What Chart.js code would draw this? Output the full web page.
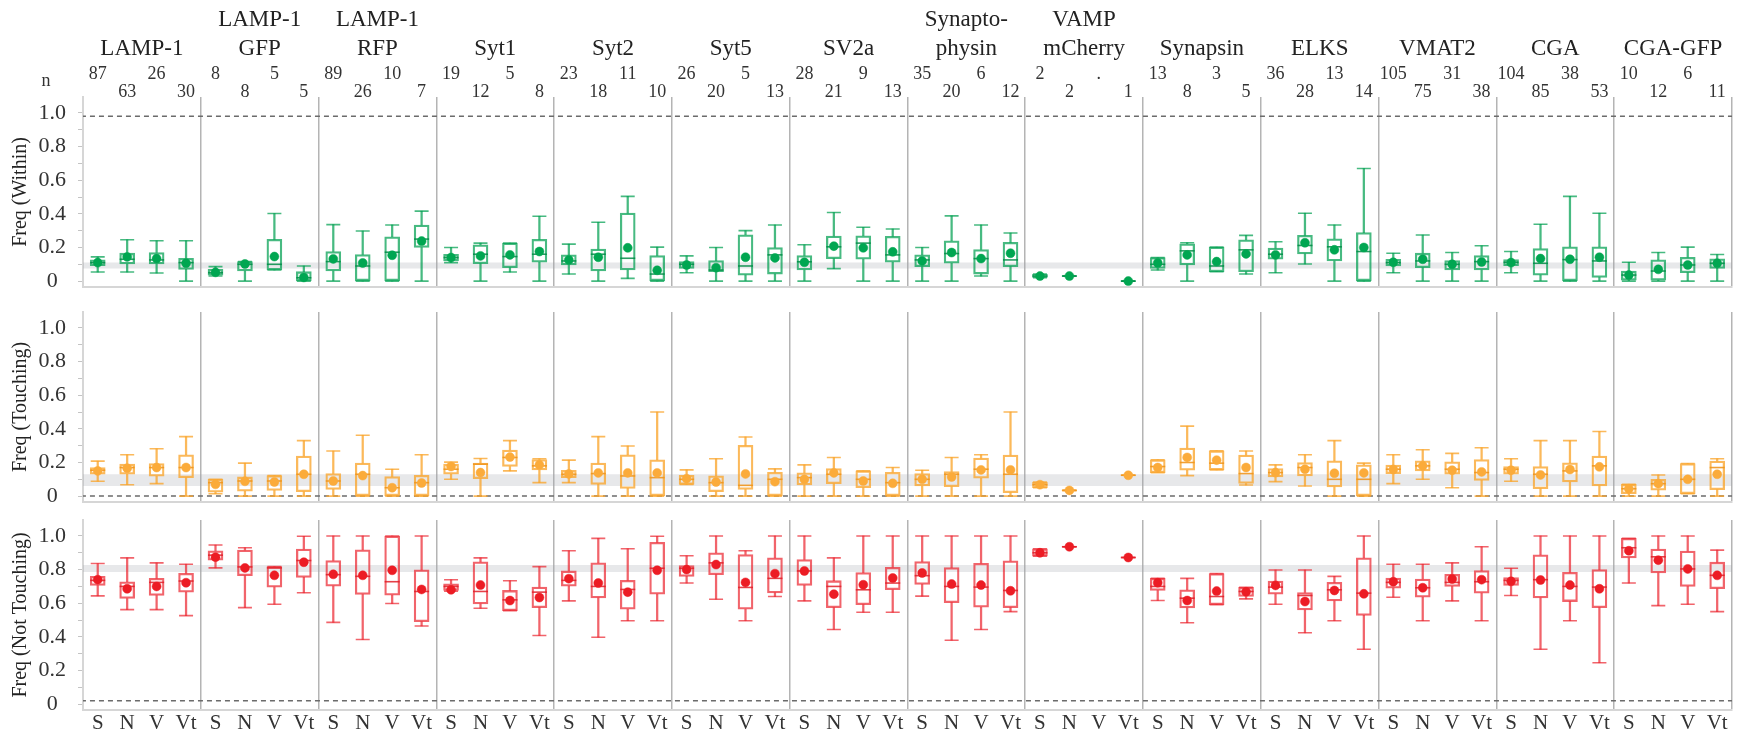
<!DOCTYPE html>
<html>
<head>
<meta charset="utf-8">
<script src="https://cdn.jsdelivr.net/npm/chart.js@4.4.1/dist/chart.umd.min.js"></script>
<style>
  html, body { margin: 0; padding: 0; background: #fff; }
  #wrap { position: relative; width: 1741px; height: 735px; overflow: hidden; background: #fff; }
  canvas { position: absolute; left: 0; }
  #fontProbe { position: absolute; left: -9999px; top: 0; font-family: "Liberation Serif"; font-size: 22px; }
</style>
</head>
<body>
<div id="wrap">
  <canvas id="cWithin" width="1741" height="314" style="top:0px"></canvas>
  <canvas id="cTouching" width="1741" height="244" style="top:285px"></canvas>
  <canvas id="cNot" width="1741" height="244" style="top:493px"></canvas>
</div>
<div id="fontProbe">Freq 0.8 LAMP-1</div>
<script>
// ---- categories ----
const panelTitles = [
  ['LAMP-1'], ['LAMP-1', 'GFP'], ['LAMP-1', 'RFP'], ['Syt1'], ['Syt2'], ['Syt5'], ['SV2a'],
  ['Synapto-', 'physin'], ['VAMP', 'mCherry'], ['Synapsin'], ['ELKS'], ['VMAT2'], ['CGA'], ['CGA-GFP']
];
const groups = ['S', 'N', 'V', 'Vt'];

// sample sizes per panel (S, N, V, Vt)
const nCounts = [
  '87', '63', '26', '30',   '8', '8', '5', '5',     '89', '26', '10', '7',   '19', '12', '5', '8',
  '23', '18', '11', '10',   '26', '20', '5', '13',  '28', '21', '9', '13',   '35', '20', '6', '12',
  '2', '2', '.', '1',       '13', '8', '3', '5',    '36', '28', '13', '14',  '105', '75', '31', '38',
  '104', '85', '38', '53',  '10', '12', '6', '11'
];

// ---- Freq (Within) ----
const withinMin = [
  0.054, 0.054, 0.048, 0,     0.03, 0, 0.066, 0,      0, 0, 0, 0,             0.11, 0, 0.054, 0,
  0.042, 0, 0.016, 0,         0.05, 0, 0, 0,          0, 0.074, 0, 0,         0, 0, 0.03, 0,
  0.02, 0.03, null, 0,        0.066, 0, 0.056, 0.042, 0.05, 0.102, 0, 0,      0.05, 0, 0, 0,
  0.05, 0, 0, 0,              0, 0, 0, 0
];
const withinQ1 = [
  0.092, 0.102, 0.102, 0.07,  0.035, 0.06, 0.066, 0,  0.06, 0, 0, 0.2,        0.12, 0.104, 0.08, 0.112,
  0.096, 0.06, 0.066, 0,      0.076, 0.056, 0.036, 0.042, 0.066, 0.134, 0.13, 0.112, 0.086, 0.106, 0.042, 0.086,
  0.022, 0.03, null, 0,       0.076, 0.096, 0.056, 0.056, 0.13, 0.162, 0.12, 0, 0.09, 0.08, 0.066, 0.066,
  0.092, 0.036, 0, 0.022,     0.006, 0.006, 0.05, 0.076
];
const withinMedian = [
  0.11, 0.13, 0.126, 0.11,    0.05, 0.1, 0.1, 0.02,   0.116, 0.09, 0.172, 0.25, 0.14, 0.16, 0.146, 0.16,
  0.12, 0.16, 0.136, 0.042,   0.1, 0.066, 0.09, 0.156, 0.115, 0.204, 0.226, 0.156, 0.126, 0.164, 0.134, 0.126,
  0.03, 0.03, null, 0,        0.1, 0.18, 0.09, 0.186, 0.16, 0.212, 0.204, 0.176, 0.11, 0.12, 0.1, 0.116,
  0.112, 0.106, 0.128, 0.12,  0.036, 0.06, 0.096, 0.106
];
const withinQ3 = [
  0.126, 0.166, 0.17, 0.136,  0.07, 0.116, 0.248, 0.056, 0.176, 0.158, 0.264, 0.334, 0.16, 0.216, 0.226, 0.248,
  0.156, 0.19, 0.404, 0.152,  0.116, 0.122, 0.276, 0.2, 0.152, 0.268, 0.27, 0.266, 0.156, 0.24, 0.188, 0.23,
  0.04, 0.03, null, 0,        0.14, 0.222, 0.202, 0.246, 0.196, 0.272, 0.252, 0.288, 0.13, 0.166, 0.122, 0.152,
  0.128, 0.194, 0.204, 0.204, 0.06, 0.126, 0.142, 0.132
];
const withinMax = [
  0.144, 0.246, 0.24, 0.24,   0.086, 0.116, 0.402, 0.09, 0.336, 0.298, 0.334, 0.416, 0.2, 0.226, 0.226, 0.386,
  0.22, 0.35, 0.504, 0.202,   0.15, 0.2, 0.3, 0.334,  0.216, 0.408, 0.32, 0.31, 0.2, 0.388, 0.334, 0.286,
  0.042, 0.03, null, 0,       0.14, 0.228, 0.202, 0.272, 0.234, 0.404, 0.334, 0.67, 0.166, 0.274, 0.17, 0.21,
  0.176, 0.338, 0.504, 0.404, 0.112, 0.17, 0.202, 0.158
];
const withinMean = [
  0.11, 0.144, 0.134, 0.106,  0.052, 0.102, 0.146, 0.022, 0.132, 0.108, 0.154, 0.238, 0.14, 0.15, 0.156, 0.176,
  0.126, 0.142, 0.198, 0.064, 0.096, 0.08, 0.142, 0.138, 0.112, 0.208, 0.198, 0.174, 0.12, 0.17, 0.134, 0.166,
  0.03, 0.03, null, 0,        0.108, 0.156, 0.116, 0.162, 0.156, 0.228, 0.186, 0.2, 0.112, 0.13, 0.1, 0.114,
  0.11, 0.134, 0.13, 0.142,   0.036, 0.07, 0.096, 0.106
];

// ---- Freq (Touching) ----
const touchMin = [
  0.088, 0.068, 0.074, 0,     0.014, 0, 0, 0,         0, 0, 0, 0,             0.1, 0, 0.15, 0.08,
  0.08, 0, 0, 0,              0.07, 0, 0, 0,          0, 0, 0, 0,             0, 0, 0, 0,
  0.05, 0.034, null, 0.124,   0.14, 0.122, 0.156, 0.066, 0.086, 0.06, 0, 0,   0.074, 0.1, 0.05, 0,
  0.088, 0, 0, 0,             0, 0, 0.014, 0
];
const touchQ1 = [
  0.13, 0.13, 0.118, 0.11,    0.024, 0.03, 0.034, 0.026, 0.04, 0, 0, 0,       0.13, 0.104, 0.176, 0.156,
  0.11, 0.07, 0.046, 0,       0.07, 0.026, 0.04, 0,   0.066, 0.074, 0.05, 0,  0.06, 0.056, 0.106, 0.02,
  0.05, 0.034, null, 0.124,   0.14, 0.154, 0.156, 0.075, 0.114, 0.12, 0.054, 0, 0.134, 0.15, 0.13, 0.094,
  0.13, 0.044, 0.084, 0.06,   0.014, 0.036, 0.014, 0.038
];
const touchMedian = [
  0.154, 0.17, 0.17, 0.17,    0.08, 0.09, 0.09, 0.13, 0.09, 0.13, 0.05, 0.08, 0.16, 0.19, 0.23, 0.18,
  0.13, 0.134, 0.12, 0.11,    0.1, 0.08, 0.064, 0.1,  0.11, 0.13, 0.1, 0.08,  0.1, 0.13, 0.16, 0.13,
  0.068, 0.034, null, 0.124,  0.176, 0.2, 0.196, 0.134, 0.14, 0.17, 0.1, 0.1, 0.16, 0.18, 0.16, 0.14,
  0.16, 0.13, 0.15, 0.18,     0.044, 0.074, 0.1, 0.17
];
const touchQ3 = [
  0.17, 0.19, 0.194, 0.246,   0.1, 0.114, 0.122, 0.238, 0.134, 0.196, 0.116, 0.124, 0.19, 0.196, 0.274, 0.218,
  0.154, 0.196, 0.246, 0.216, 0.124, 0.12, 0.302, 0.142, 0.138, 0.164, 0.15, 0.142, 0.134, 0.146, 0.226, 0.244,
  0.084, 0.034, null, 0.124,  0.216, 0.286, 0.27, 0.244, 0.164, 0.2, 0.21, 0.186, 0.184, 0.21, 0.204, 0.218,
  0.176, 0.176, 0.198, 0.238, 0.07, 0.1, 0.194, 0.208
];
const touchMax = [
  0.208, 0.246, 0.282, 0.354, 0.1, 0.196, 0.122, 0.33, 0.268, 0.362, 0.16, 0.246, 0.202, 0.224, 0.33, 0.222,
  0.214, 0.354, 0.298, 0.5,   0.156, 0.222, 0.352, 0.162, 0.186, 0.23, 0.15, 0.17, 0.154, 0.23, 0.246, 0.5,
  0.084, 0.034, null, 0.124,  0.216, 0.416, 0.27, 0.268, 0.186, 0.246, 0.33, 0.196, 0.246, 0.276, 0.254, 0.288,
  0.222, 0.33, 0.33, 0.384,   0.07, 0.126, 0.194, 0.222
];
const touchMean = [
  0.15, 0.166, 0.17, 0.17,    0.07, 0.088, 0.084, 0.13, 0.09, 0.122, 0.05, 0.078, 0.176, 0.14, 0.232, 0.186,
  0.132, 0.138, 0.138, 0.138, 0.104, 0.084, 0.132, 0.086, 0.1, 0.138, 0.09, 0.076, 0.1, 0.114, 0.156, 0.156,
  0.068, 0.034, null, 0.124,  0.17, 0.23, 0.214, 0.17, 0.14, 0.16, 0.136, 0.138, 0.158, 0.18, 0.154, 0.144,
  0.154, 0.126, 0.158, 0.174, 0.044, 0.074, 0.1, 0.13
];

// ---- Freq (Not Touching) ----
const notMin = [
  0.644, 0.562, 0.562, 0.526, 0.81, 0.574, 0.594, 0.662, 0.486, 0.384, 0.598, 0.465, 0.672, 0.57, 0.556, 0.408,
  0.614, 0.398, 0.496, 0.496, 0.72, 0.624, 0.496, 0.64, 0.614, 0.444, 0.546, 0.546, 0.642, 0.38, 0.444, 0.55,
  0.88, 0.936, null, 0.872,   0.616, 0.484, 0.592, 0.626, 0.594, 0.424, 0.496, 0.326, 0.636, 0.496, 0.614, 0.496,
  0.646, 0.326, 0.496, 0.246, 0.72, 0.586, 0.594, 0.55
];
const notQ1 = [
  0.706, 0.628, 0.646, 0.666, 0.856, 0.764, 0.696, 0.754, 0.702, 0.652, 0.648, 0.49, 0.676, 0.596, 0.556, 0.574,
  0.702, 0.632, 0.564, 0.654, 0.76, 0.77, 0.564, 0.662, 0.706, 0.574, 0.592, 0.68, 0.712, 0.604, 0.576, 0.574,
  0.88, 0.936, null, 0.872,   0.676, 0.572, 0.592, 0.64, 0.654, 0.56, 0.614, 0.528, 0.69, 0.636, 0.7, 0.66,
  0.706, 0.632, 0.61, 0.574,  0.87, 0.78, 0.7, 0.686
];
const notMedian = [
  0.736, 0.7, 0.724, 0.732,   0.886, 0.816, 0.81, 0.854, 0.77, 0.76, 0.728, 0.67, 0.7, 0.67, 0.62, 0.666,
  0.736, 0.7, 0.682, 0.808,   0.808, 0.84, 0.694, 0.748, 0.792, 0.7, 0.68, 0.72, 0.764, 0.7, 0.696, 0.676,
  0.9, 0.936, null, 0.872,    0.7, 0.63, 0.64, 0.67,  0.696, 0.646, 0.68, 0.66, 0.724, 0.692, 0.724, 0.728,
  0.736, 0.74, 0.7, 0.696,    0.93, 0.876, 0.804, 0.766
];
const notQ3 = [
  0.76, 0.728, 0.748, 0.778,  0.912, 0.916, 0.818, 0.922, 0.854, 0.918, 1.0, 0.798, 0.716, 0.846, 0.676, 0.696,
  0.792, 0.84, 0.736, 0.962,  0.824, 0.9, 0.89, 0.87, 0.86, 0.734, 0.782, 0.814, 0.848, 0.812, 0.838, 0.852,
  0.924, 0.936, null, 0.872,  0.748, 0.68, 0.776, 0.694, 0.732, 0.664, 0.724, 0.87, 0.75, 0.744, 0.772, 0.794,
  0.752, 0.888, 0.784, 0.8,   0.986, 0.922, 0.91, 0.844
];
const notMax = [
  0.836, 0.87, 0.84, 0.832,   0.946, 0.93, 0.818, 0.998, 1.0, 1.0, 1.0, 1.0,   0.74, 0.87, 0.734, 0.818,
  0.912, 0.986, 0.924, 0.998, 0.882, 1.0, 0.912, 1.0, 1.0, 0.87, 1.0, 1.0,     1.0, 1.0, 1.0, 1.0,
  0.924, 0.936, null, 0.872,  0.748, 0.748, 0.776, 0.694, 0.798, 0.798, 0.76, 1.0, 0.832, 0.832, 0.84, 0.936,
  0.808, 1.0, 1.0, 1.0,       0.986, 1.0, 1.0, 0.916
];
const notMean = [
  0.74, 0.686, 0.7, 0.722,    0.874, 0.81, 0.766, 0.844, 0.772, 0.766, 0.796, 0.682, 0.68, 0.708, 0.616, 0.634,
  0.746, 0.72, 0.666, 0.796,  0.8, 0.83, 0.724, 0.776, 0.792, 0.654, 0.71, 0.75, 0.78, 0.714, 0.708, 0.674,
  0.9, 0.936, null, 0.872,    0.722, 0.616, 0.672, 0.668, 0.706, 0.61, 0.676, 0.656, 0.728, 0.692, 0.744, 0.74,
  0.73, 0.738, 0.708, 0.686,  0.912, 0.856, 0.804, 0.766
];

// overall reference band and dashed reference line per row (Within, Touching, Not Touching)
const bandLow = [0.075, 0.06, 0.785];
const bandHigh = [0.11, 0.13, 0.828];
const refLine = [0.98, 0.0, 0.02];
const rowTitles = ['Freq (Within)', 'Freq (Touching)', 'Freq (Not Touching)'];

// ---- helpers ----
const categories = [];
panelTitles.forEach(t => groups.forEach(g => categories.push(t.join(' ') + ' ' + g)));

const SERIF = '"Liberation Serif"';

function boxDatasets(s, col) {
  const lowW = s.min.map((v, i) => v == null ? null : [v, s.q1[i]]);
  const upW = s.max.map((v, i) => v == null ? null : [s.q3[i], v]);
  const box = s.q1.map((v, i) => v == null ? null : [v, s.q3[i]]);
  const cap = (data) => ({
    type: 'line', data, showLine: false, pointStyle: 'line', pointRadius: 7,
    pointBorderWidth: 1.6, pointBorderColor: col.line, pointBackgroundColor: col.line, order: 4
  });
  return [
    { type: 'bar', data: lowW, backgroundColor: col.line, borderWidth: 0, barThickness: 1.6, grouped: false, order: 6 },
    { type: 'bar', data: upW, backgroundColor: col.line, borderWidth: 0, barThickness: 1.6, grouped: false, order: 6 },
    { type: 'bar', data: box, backgroundColor: 'rgba(255,255,255,0)', borderColor: col.line, borderWidth: 1.6,
      borderSkipped: false, barThickness: 15, grouped: false, order: 5 },
    cap(s.min),
    cap(s.max),
    { type: 'line', data: s.median, showLine: false, pointStyle: 'line', pointRadius: 7.5,
      pointBorderWidth: 1.6, pointBorderColor: col.median, order: 3 },
    { type: 'line', data: s.mean, showLine: false, pointStyle: 'circle', pointRadius: 4.5,
      pointBackgroundColor: col.dot, pointBorderColor: col.dot, pointBorderWidth: 0.5, order: 1 }
  ];
}

// the band and the dashed line run past both ends of the hidden 0..1 axis and get clipped to the plot
function refDatasets(r) {
  const span = (v) => [{ x: -1, y: v }, { x: 2, y: v }];
  return [
    { type: 'line', xAxisID: 'xr', data: span(bandLow[r]), borderWidth: 0, pointRadius: 0, order: 20 },
    { type: 'line', xAxisID: 'xr', data: span(bandHigh[r]), borderWidth: 0, pointRadius: 0,
      fill: '-1', backgroundColor: 'rgba(160,165,170,0.25)', order: 19 },
    { type: 'line', xAxisID: 'xr', data: span(refLine[r]), borderColor: '#6b6b6b', borderWidth: 1.5,
      borderDash: [5, 4], pointRadius: 0, order: 18 }
  ];
}

// panel names, n counts and the "n" row label above the first row
const headerPlugin = {
  id: 'panelHeader',
  afterDraw(chart) {
    if (!chart.options.plugins.panelHeader || !chart.options.plugins.panelHeader.show) return;
    const { ctx } = chart;
    const x = chart.scales.x;
    ctx.save();
    ctx.fillStyle = '#222';
    ctx.textAlign = 'center';
    ctx.textBaseline = 'middle';
    ctx.font = '23px ' + SERIF;
    panelTitles.forEach((lines, p) => {
      const cx = (x.getPixelForValue(p * 4 + 1) + x.getPixelForValue(p * 4 + 2)) / 2;
      if (lines.length === 2) {
        ctx.fillText(lines[0], cx, 20);
        ctx.fillText(lines[1], cx, 49);
      } else {
        ctx.fillText(lines[0], cx, 49);
      }
    });
    ctx.font = '18px ' + SERIF;
    ctx.fillStyle = '#333';
    nCounts.forEach((n, i) => {
      ctx.fillText(n, x.getPixelForValue(i), i % 2 === 0 ? 74 : 92);
    });
    ctx.fillText('n', 46, 81);
    ctx.restore();
  }
};

function makeRow(canvasId, r, stats, col, opts) {
  return new Chart(document.getElementById(canvasId), {
    type: 'bar',
    data: {
      labels: categories,
      datasets: [...refDatasets(r), ...boxDatasets(stats, col)]
    },
    plugins: [headerPlugin],
    options: {
      responsive: false,
      animation: false,
      events: [],
      layout: { padding: { top: opts.padTop, bottom: opts.padBottom, left: 0, right: 3 } },
      plugins: {
        legend: { display: false },
        tooltip: { enabled: false },
        panelHeader: { show: r === 0 }
      },
      scales: {
        x: {
          type: 'category',
          offset: true,
          afterFit(s) { s.height = opts.xHeight; },
          grid: {
            offset: true,
            drawTicks: false,
            lineWidth: 1.5,
            color: c => (c.index === undefined || (c.index > 0 && c.index % 4 === 0)) ? '#b4b4b4' : 'rgba(0,0,0,0)'
          },
          border: { color: '#d6d6d6', width: 2 },
          ticks: {
            display: opts.showX,
            autoSkip: false,
            maxRotation: 0,
            padding: 1,
            color: '#333',
            font: { family: SERIF, size: 21 },
            callback: (v, i) => groups[i % 4]
          }
        },
        xr: { type: 'linear', min: 0, max: 1, display: false },
        y: {
          min: -0.035,
          max: 1.095,
          afterFit(s) { s.width = 83; },
          ticks: {
            stepSize: 0.1,
            includeBounds: false,
            autoSkip: false,
            crossAlign: 'center',
            padding: 12,
            color: '#333',
            font: { family: SERIF, size: 22 },
            callback: v => {
              const k = Math.round(v * 10);
              if (k < 0 || k > 10 || k % 2) return '';
              return k === 0 ? '0' : (k / 10).toFixed(1);
            }
          },
          grid: { drawOnChartArea: false, drawTicks: true, tickLength: 5, color: '#c4c4c4' },
          border: { color: '#d6d6d6', width: 2 },
          title: {
            display: true, text: rowTitles[r], color: '#222',
            font: { family: SERIF, size: 20 }, padding: { top: 9, bottom: 0 }
          }
        }
      }
    }
  });
}

function build() {
  makeRow('cWithin', 0,
    { min: withinMin, q1: withinQ1, median: withinMedian, q3: withinQ3, max: withinMax, mean: withinMean },
    { line: 'rgba(0,160,80,0.72)', median: 'rgba(0,140,70,0.85)', dot: '#00a651' },
    { padTop: 97, padBottom: 27, xHeight: 0, showX: false });

  makeRow('cTouching', 1,
    { min: touchMin, q1: touchQ1, median: touchMedian, q3: touchQ3, max: touchMax, mean: touchMean },
    { line: 'rgba(250,165,45,0.78)', median: 'rgba(240,150,30,0.9)', dot: '#fbab3a' },
    { padTop: 27, padBottom: 27, xHeight: 0, showX: false });

  makeRow('cNot', 2,
    { min: notMin, q1: notQ1, median: notMedian, q3: notQ3, max: notMax, mean: notMean },
    { line: 'rgba(235,40,50,0.72)', median: 'rgba(225,30,40,0.85)', dot: '#ec1c24' },
    { padTop: 27, padBottom: 2, xHeight: 25, showX: true });
}

Promise.all([
  document.fonts.load('23px "Liberation Serif"'),
  document.fonts.load('18px "Liberation Serif"')
]).then(build, build);
</script>
</body>
</html>
